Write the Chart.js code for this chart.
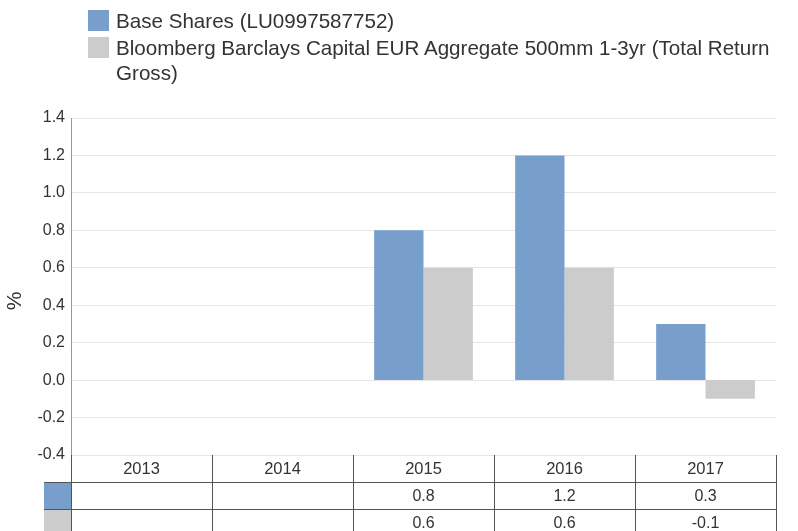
<!DOCTYPE html>
<html>
<head>
<meta charset="utf-8">
<script src="https://cdn.jsdelivr.net/npm/chart.js@4"></script>
<style>
  body { margin: 0; background: #fff; font-family: "Liberation Sans", Arial, sans-serif; }
  #wrap { position: relative; width: 798px; height: 531px; overflow: hidden; }
  #legend { position: absolute; left: 88px; top: 8px; width: 710px; color: #333; font-size: 20.6px; }
  .item { position: relative; padding-left: 28px; line-height: 25px; margin-bottom: 2px; }
  .sw { position: absolute; left: 0; top: 2px; width: 21px; height: 21px; }
</style>
</head>
<body>
<div id="wrap">
  <canvas id="chart" width="798" height="531"></canvas>
  <div id="legend"></div>
</div>
<script>
let years = ['2013', '2014', '2015', '2016', '2017'];
let seriesNames = ['Base Shares (LU0997587752)', 'Bloomberg Barclays Capital EUR Aggregate 500mm 1-3yr (Total Return Gross)'];
let baseValues = [null, null, 0.8, 1.2, 0.3];
let benchValues = [null, null, 0.6, 0.6, -0.1];
let colors = ['#789fcc', '#cccccc'];
let fontFamily = '"Liberation Sans", Arial, sans-serif';

// legende en HTML
let legend = document.getElementById('legend');
seriesNames.forEach((name, i) => {
    let div = document.createElement('div');
    div.className = 'item';
    div.innerHTML = '<span class="sw" style="background:' + colors[i] + '"></span>' + name;
    legend.appendChild(div);
});

// tableau de donnees sous l'axe + titre de l'axe
let tablePlugin = {
    id: 'dataTable',
    afterDraw(chart) {
        let ctx = chart.ctx;
        let x = chart.scales.x;
        let area = chart.chartArea;
        let top = area.bottom;
        let rowH = 27;
        let half = (x.getPixelForValue(1) - x.getPixelForValue(0)) / 2;
        let left = x.getPixelForValue(0) - half;
        let right = x.getPixelForValue(years.length - 1) + half;
        let rows = [baseValues, benchValues];
        ctx.save();
        rows.forEach((r, i) => {
            ctx.fillStyle = colors[i];
            ctx.fillRect(left - 27, top + rowH * (i + 1), 27, rowH);
        });
        ctx.strokeStyle = '#555';
        ctx.lineWidth = 1;
        ctx.beginPath();
        for (let i = 0; i <= years.length; i++) {
            let px = Math.round(left + i * half * 2) + 0.5;
            ctx.moveTo(px, top);
            ctx.lineTo(px, top + rowH * 3 + 5);
        }
        for (let j = 1; j <= 2; j++) {
            let py = Math.round(top + rowH * j) + 0.5;
            ctx.moveTo(left - 27, py);
            ctx.lineTo(right, py);
        }
        ctx.stroke();
        ctx.fillStyle = '#333';
        ctx.textAlign = 'center';
        ctx.textBaseline = 'middle';
        years.forEach((y, i) => {
            let cx = x.getPixelForValue(i);
            ctx.font = '16.5px ' + fontFamily;
            ctx.fillText(y, cx, top + rowH / 2 + 1);
            ctx.font = '16px ' + fontFamily;
            rows.forEach((r, j) => {
                if (r[i] !== null) ctx.fillText(r[i].toFixed(1), cx, top + rowH * (j + 1.5) + 1);
            });
        });
        // titre "%"
        ctx.translate(15, 301);
        ctx.rotate(-Math.PI / 2);
        ctx.font = '21px ' + fontFamily;
        ctx.fillText('%', 0, 0);
        ctx.restore();
    }
};

new Chart(document.getElementById('chart').getContext('2d'), {
    type: 'bar',
    data: {
        labels: years,
        datasets: [
            { label: seriesNames[0], data: baseValues, backgroundColor: colors[0] },
            { label: seriesNames[1], data: benchValues, backgroundColor: colors[1] }
        ]
    },
    options: {
        responsive: false,
        animation: false,
        events: [],
        layout: { padding: { top: 118, right: 22, bottom: 76, left: 0 } },
        datasets: { bar: { barPercentage: 1, categoryPercentage: 0.7 } },
        plugins: { legend: { display: false }, tooltip: { enabled: false } },
        scales: {
            x: { display: false },
            y: {
                min: -0.4,
                max: 1.4,
                afterFit(scale) { scale.width = 71; },
                ticks: {
                    stepSize: 0.2,
                    padding: 6,
                    color: '#333',
                    font: { size: 16, family: fontFamily },
                    callback: v => (Math.abs(v) < 1e-9 ? 0 : v).toFixed(1)
                },
                grid: { color: '#e6e6e6', drawTicks: false },
                border: { color: '#999' }
            }
        }
    },
    plugins: [tablePlugin]
});
</script>
</body>
</html>
